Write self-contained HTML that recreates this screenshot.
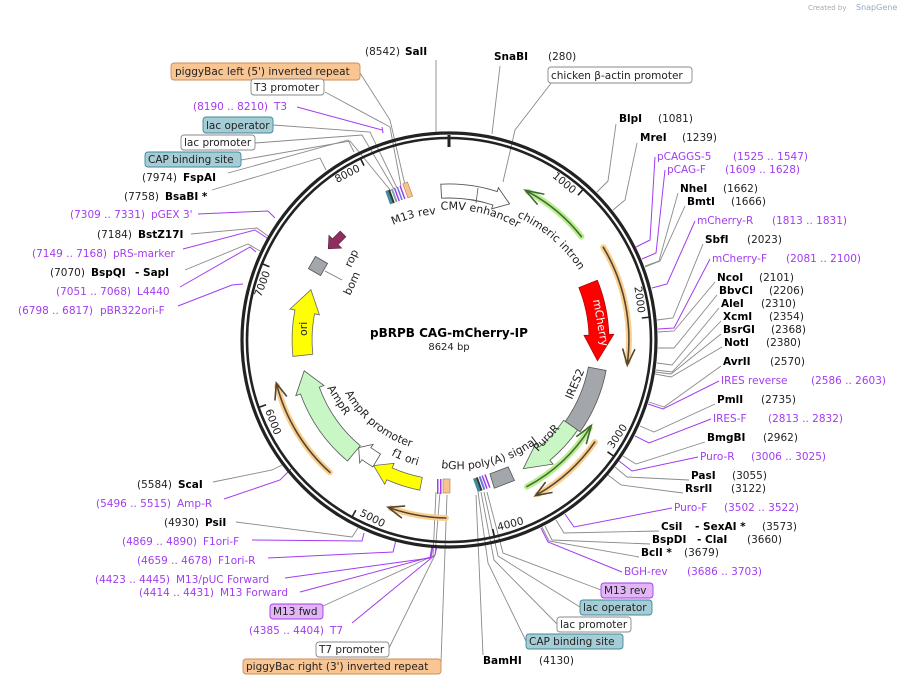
<!DOCTYPE html>
<html><head><meta charset="utf-8"><style>
html,body{margin:0;padding:0;background:#fff}
svg{display:block}
text{font-family:"DejaVu Sans","Liberation Sans",sans-serif;font-size:10.5px;fill:#222}
.b{font-weight:bold;fill:#000}
.p{fill:#a23cf0}
.t{font-size:10.5px;fill:#222}
.lg{fill:none;stroke:#8a8a8a;stroke-width:0.9}
.lp{fill:none;stroke:#a23cf0;stroke-width:1}
</style></head><body>
<svg width="904" height="683" viewBox="0 0 904 683" xmlns="http://www.w3.org/2000/svg">
<text x="808" y="10" style="font-size:7px;fill:#aaa">Created by</text><text x="856" y="10" style="font-size:8px;fill:#9ab">SnapGene</text>

<g class="lg">
<polyline points="436,60 436,132"/>
<polyline points="500,66 492,134"/>
<polyline points="552,82 515,130 503,182"/>
<polyline points="360,73 390,120 405,185"/>
<polyline points="325,92 390,127 401,186"/>
<polyline points="273,125 370,132 397,188"/>
<polyline points="255,143 362,135 394,189"/>
<polyline points="241,160 350,141 391,191"/>
<polyline points="228,173 348,140 354,152"/>
<polyline points="212,190 320,158 326,170"/>
<polyline points="191,234 257,228 268,236"/>
<polyline points="185,270 248,244 260,251"/>
<polyline points="213,482 272,470 282,465"/>
<polyline points="236,522 352,537 358,528"/>
<polyline points="323,606 433,556 436,492"/>
<polyline points="389,648 435,555 440,492"/>
<polyline points="441,662 447,495"/>
<polyline points="616,124 608,181 597,192"/>
<polyline points="637,143 625,200 613,210"/>
<polyline points="678,193 659,261 645,266"/>
<polyline points="685,206 660,261 645,267"/>
<polyline points="703,244 673,318 657,320"/>
<polyline points="715,282 674,331 658,332"/>
<polyline points="717,295 674,348 658,348"/>
<polyline points="719,308 672,365 657,363"/>
<polyline points="721,321 672,372 656,370"/>
<polyline points="721,334 671,374 655,372"/>
<polyline points="722,347 671,377 655,374"/>
<polyline points="721,366 664,407 649,402"/>
<polyline points="715,404 654,432 640,426"/>
<polyline points="705,442 636,464 623,456"/>
<polyline points="689,480 627,477 615,467"/>
<polyline points="683,493 621,485 608,475"/>
<polyline points="659,531 564,533 556,520"/>
<polyline points="650,544 552,540 545,526"/>
<polyline points="639,557 549,541 542,527"/>
<polyline points="601,590 503,553 487,492"/>
<polyline points="580,607 498,556 484,492"/>
<polyline points="557,624 494,560 481,492"/>
<polyline points="526,641 488,563 478,492"/>
<polyline points="483,655 476,495"/>
</g>
<g class="lp">
<polyline points="297,107 382,130"/><line x1="382" y1="127" x2="383" y2="133"/>
<polyline points="198,214 268,211 275,218"/>
<polyline points="183,249 255,230 267,238"/>
<polyline points="180,287 250,247 256,252"/>
<polyline points="178,306 232,285 243,284"/>
<polyline points="224,499 280,480 291,469"/>
<polyline points="252,540 362,541 364,533"/>
<polyline points="268,558 393,552 396,540"/>
<polyline points="285,578 430,558 432,546"/>
<polyline points="300,592 431,557 433,546"/>
<polyline points="352,623 435,555 437,546"/>
<polyline points="655,157 650,240 636,247"/>
<polyline points="665,170 656,253 642,259"/>
<polyline points="695,221 667,284 652,288"/>
<polyline points="710,259 674,328 658,329"/>
<polyline points="719,381 663,409 648,404"/>
<polyline points="711,419 649,443 635,436"/>
<polyline points="698,457 632,471 619,461"/>
<polyline points="672,508 574,527 565,514"/>
<polyline points="622,572 548,542 541,528"/>
</g>

<circle cx="449" cy="340" r="207" fill="none" stroke="#222" stroke-width="3.2"/>
<circle cx="449" cy="340" r="202" fill="none" stroke="#222" stroke-width="2.6"/>
<line x1="449" y1="135" x2="449" y2="147" stroke="#222" stroke-width="3"/>
<g stroke="#222" stroke-width="1.6">
<line x1="578" y1="195.2" x2="584" y2="188.4"/>
<line x1="641.8" y1="318" x2="650.7" y2="317"/>
<line x1="607.5" y1="451.8" x2="614.9" y2="457"/>
<line x1="492.7" y1="529" x2="494.7" y2="537.8"/>
<line x1="355.8" y1="510.2" x2="351.5" y2="518"/>
<line x1="266.1" y1="404.8" x2="257.7" y2="407.8"/>
<line x1="269.4" y1="266.7" x2="261" y2="263.3"/>
<line x1="364" y1="165.6" x2="360" y2="157.5"/>
</g>
<g class="t">
<text x="572.3" y="194.1" text-anchor="end" transform="rotate(40.2 572.3 194.1)">1000</text>
<text x="638.1" y="313.4" text-anchor="end" transform="rotate(82 638.1 313.4)">2000</text>
<text x="270.3" y="272.5" text-anchor="end" transform="rotate(-69.3 270.3 272.5)">7000</text>
<text x="360.8" y="170.6" text-anchor="end" transform="rotate(-27.5 360.8 170.6)">8000</text>
<text x="612.9" y="449.3" transform="rotate(-56.3 612.9 449.3)">3000</text>
<text x="498.3" y="530.7" transform="rotate(-14.5 498.3 530.7)">4000</text>
<text x="359" y="515.2" transform="rotate(27.2 359 515.2)">5000</text>
<text x="265.1" y="410.6" transform="rotate(69 265.1 410.6)">6000</text>
</g>

<path d="M440.8,184.2 A156,156 0 0 1 497.2,191.6 L498.4,187.8 L509.6,203.9 L491.6,208.8 L492.9,205 A142,142 0 0 0 441.6,198.2 Z" fill="#fff" stroke="#555" stroke-width="0.9"/>
<line x1="478" y1="188" x2="476" y2="203" stroke="#555" stroke-width="0.8"/>
<g fill="none" stroke-linecap="round">
<path d="M527.9,191.7 A168,168 0 0 1 581.4,236.6" stroke="#b8ee90" stroke-width="6"/>
<path d="M527.9,191.7 A168,168 0 0 1 581.4,236.6" stroke="#3f6b2f" stroke-width="1.6"/>
<polyline points="537.2,204.1 525.3,190.3 543.8,194.1" stroke="#3f6b2f" stroke-width="1.6"/>
<path d="M603.3,247.3 A180,180 0 0 1 627.6,361.9" stroke="#f9cf8f" stroke-width="6"/>
<path d="M603.3,247.3 A180,180 0 0 1 627.6,361.9" stroke="#55452f" stroke-width="1.6"/>
<polyline points="622.8,349.1 627.3,365.1 634.7,349.7" stroke="#55452f" stroke-width="1.6"/>
<path d="M526.9,486.6 A166,166 0 0 0 589.8,428" stroke="#b8ee90" stroke-width="6"/>
<path d="M526.9,486.6 A166,166 0 0 0 589.8,428" stroke="#3f6b2f" stroke-width="1.6"/>
<polyline points="576.8,436.3 591.3,425.5 586.4,443.5" stroke="#3f6b2f" stroke-width="1.6"/>
<path d="M594.8,442.1 A178,178 0 0 1 538,494.2" stroke="#f9cf8f" stroke-width="6"/>
<path d="M594.8,442.1 A178,178 0 0 1 538,494.2" stroke="#55452f" stroke-width="1.6"/>
<polyline points="545.2,482.6 535.3,495.7 551.9,492.5" stroke="#55452f" stroke-width="1.6"/>
<path d="M445.9,518 A178,178 0 0 1 391,508.3" stroke="#f9cf8f" stroke-width="6"/>
<path d="M445.9,518 A178,178 0 0 1 391,508.3" stroke="#55452f" stroke-width="1.6"/>
<polyline points="404.5,506.1 388.1,507.3 401.4,517.7" stroke="#55452f" stroke-width="1.6"/>
<path d="M329.9,472.3 A178,178 0 0 1 277.1,386.1" stroke="#f9cf8f" stroke-width="6"/>
<path d="M329.9,472.3 A178,178 0 0 1 277.1,386.1" stroke="#55452f" stroke-width="1.6"/>
<polyline points="286.4,396 276.3,383.1 275,399.9" stroke="#55452f" stroke-width="1.6"/>
</g>
<path d="M597.4,280.1 A160,160 0 0 1 608.9,334.4 L613.9,334.2 L597.5,360.9 L583.9,335.3 L588.9,335.1 A140,140 0 0 0 578.8,287.6 Z" fill="#f00" stroke="#900" stroke-width="0.6"/>
<text x="593" y="300" style="fill:#fff;font-size:11px" transform="rotate(80 593 300)">mCherry</text>
<path d="M606.1,370.5 A160,160 0 0 1 580.1,431.8 L565.3,421.5 A142,142 0 0 0 588.4,367.1 Z" fill="#a3a6ab" stroke="#555" stroke-width="0.8"/>
<path d="M577.6,430.1 A157,157 0 0 1 549.9,460.3 L553.1,464.1 L523.3,468.6 L535.8,443.4 L539,447.2 A140,140 0 0 0 563.7,420.3 Z" fill="#c8f6c4" stroke="#555" stroke-width="0.8"/>
<text x="538" y="452" style="font-size:11px" transform="rotate(-47 538 452)">PuroR</text>
<path d="M514.5,480.5 L494.3,488.2 L489.9,473.9 L508.2,466.9 Z" fill="#a3a6ab" stroke="#555" stroke-width="0.8"/>
<path d="M419.8,490.2 A153,153 0 0 1 386.8,479.8 L384.7,484.3 L373.6,465.6 L394.1,463.3 L392.1,467.9 A140,140 0 0 0 422.3,477.4 Z" fill="#ff0" stroke="#666" stroke-width="0.8"/>
<path d="M347.4,461 A158,158 0 0 1 300.5,394 L295.8,395.7 L304.2,370.8 L324,385.5 L319.3,387.2 A138,138 0 0 0 360.3,445.7 Z" fill="#c8f6c4" stroke="#555" stroke-width="0.8"/>
<text x="327" y="388" style="font-size:11px" transform="rotate(58 327 388)">AmpR</text>
<path d="M372.8,466.9 A148,148 0 0 1 362,459.7 L359.7,463 L358.7,447.6 L373.2,444.4 L370.8,447.6 A133,133 0 0 0 380.5,454 Z" fill="#fff" stroke="#555" stroke-width="0.8"/>
<path d="M292.9,356.4 A157,157 0 0 1 294.9,310 L290,309.1 L310.9,289.7 L319.4,314.8 L314.5,313.9 A137,137 0 0 0 312.8,354.3 Z" fill="#ff0" stroke="#666" stroke-width="0.8"/>
<text x="307" y="336" style="font-size:11px" transform="rotate(-90 307 336)">ori</text>
<rect x="-7" y="-7" width="14" height="14" transform="translate(318,266) rotate(30)" fill="#a3a6ab" stroke="#555" stroke-width="0.8"/>
<line x1="325" y1="271" x2="342" y2="280" stroke="#777" stroke-width="0.8"/>
<polygon points="-10,-4 1,-4 1,-9 11,0 1,9 1,4 -10,4" transform="translate(336,241) rotate(135)" fill="#8e2f5f" stroke="#5a1d3c" stroke-width="0.6"/>
<text x="350" y="296" style="font-size:11px" transform="rotate(-65 350 296)">bom</text>
<text x="351" y="268" style="font-size:11px" transform="rotate(-65 351 268)">rop</text>
<g transform="translate(398,194) rotate(-20)">
<rect x="-11" y="-7" width="3" height="14" fill="#3e8a9a"/><rect x="-8" y="-7" width="2" height="14" fill="#333"/>
<rect x="-5" y="-7" width="2" height="14" fill="#7aa"/><rect x="-2" y="-7" width="1.5" height="14" fill="#a23cf0"/>
<rect x="1" y="-7" width="1.5" height="14" fill="#5b7be0"/><rect x="4" y="-7" width="1.5" height="14" fill="#a23cf0"/>
<rect x="8" y="-8" width="5" height="15" fill="#f8c390" stroke="#b07a4a" stroke-width="0.6"/>
</g>
<rect x="437" y="479" width="1.5" height="15" fill="#a23cf0"/><rect x="440" y="479" width="1.5" height="15" fill="#a23cf0"/>
<rect x="443" y="479" width="7" height="14" fill="#f8c390" stroke="#b07a4a" stroke-width="0.6"/>
<g transform="translate(482,483) rotate(-20)">
<rect x="-7" y="-7" width="3" height="14" fill="#3e8a9a"/><rect x="-4" y="-7" width="2" height="14" fill="#333"/>
<rect x="-1" y="-7" width="2" height="14" fill="#5b7be0"/><rect x="2" y="-7" width="1.5" height="14" fill="#a23cf0"/><rect x="5" y="-7" width="1.5" height="14" fill="#a23cf0"/>
</g>

<defs>
<path id="cmv" d="M440.8,210 A130,130 0 0 1 540,245"/>
<path id="chi" d="M517,217 A146,146 0 0 1 590,290"/>
<path id="m13" d="M393,225 A126,126 0 0 1 440,214"/>
<path id="bgh" d="M441,468 A128,128 0 0 0 560,420"/>
<path id="ampp" d="M345,393 A112,112 0 0 0 430,451"/>
<path id="f1" d="M391,455 A128,128 0 0 0 430,468"/>
</defs>
<text style="font-size:11px"><textPath href="#cmv">CMV enhancer</textPath></text>
<text style="font-size:11px"><textPath href="#chi">chimeric intron</textPath></text>
<text style="font-size:11px"><textPath href="#m13">M13 rev</textPath></text>
<text style="font-size:11px"><textPath href="#bgh">bGH poly(A) signal</textPath></text>
<text style="font-size:11px"><textPath href="#ampp">AmpR promoter</textPath></text>
<text style="font-size:11px"><textPath href="#f1">f1 ori</textPath></text>
<text x="572" y="400" style="font-size:11px" transform="rotate(-67 572 400)">IRES2</text>

<text x="449" y="337" text-anchor="middle" class="b" style="font-size:12px">pBRPB CAG-mCherry-IP</text>
<text x="449" y="350" text-anchor="middle" style="font-size:10px">8624 bp</text>

<g stroke-width="0.9">
<rect x="171" y="63" width="189" height="17" rx="3" fill="#f9c593" stroke="#c98e5a"/>
<rect x="251" y="79" width="73" height="16" rx="3" fill="#fff" stroke="#888"/>
<rect x="203" y="117" width="70" height="16" rx="3" fill="#a6cdd6" stroke="#3e8a9a"/>
<rect x="181" y="135" width="74" height="15" rx="3" fill="#fff" stroke="#888"/>
<rect x="145" y="152" width="96" height="15" rx="3" fill="#a6cdd6" stroke="#3e8a9a"/>
<rect x="548" y="67" width="144" height="16" rx="3" fill="#fff" stroke="#888"/>
<rect x="601" y="583" width="52" height="15" rx="3" fill="#e2b6f5" stroke="#a23cf0"/>
<rect x="580" y="600" width="72" height="15" rx="3" fill="#a6cdd6" stroke="#3e8a9a"/>
<rect x="557" y="617" width="74" height="15" rx="3" fill="#fff" stroke="#888"/>
<rect x="526" y="634" width="97" height="15" rx="3" fill="#a6cdd6" stroke="#3e8a9a"/>
<rect x="270" y="604" width="53" height="15" rx="3" fill="#e2b6f5" stroke="#a23cf0"/>
<rect x="316" y="642" width="73" height="15" rx="3" fill="#fff" stroke="#888"/>
<rect x="243" y="659" width="198" height="15" rx="3" fill="#f9c593" stroke="#c98e5a"/>
</g>
<g style="font-size:10.5px">
<text x="175" y="75">piggyBac left (5') inverted repeat</text>
<text x="254" y="91">T3 promoter</text>
<text x="206" y="129">lac operator</text>
<text x="184" y="146">lac promoter</text>
<text x="148" y="163">CAP binding site</text>
<text x="551" y="79">chicken β-actin promoter</text>
<text x="604" y="594">M13 rev</text>
<text x="583" y="611">lac operator</text>
<text x="560" y="628">lac promoter</text>
<text x="529" y="645">CAP binding site</text>
<text x="273" y="615">M13 fwd</text>
<text x="319" y="653">T7 promoter</text>
<text x="246" y="670">piggyBac right (3') inverted repeat</text>
</g>

<text x="365" y="55">(8542)</text><text x="405" y="55" class="b">SalI</text>
<text x="193" y="110" class="p">(8190 .. 8210)</text><text x="274" y="110" class="p">T3</text>
<text x="142" y="181">(7974)</text><text x="183" y="181" class="b">FspAI</text>
<text x="124" y="200">(7758)</text><text x="165" y="200" class="b">BsaBI *</text>
<text x="70" y="218" class="p">(7309 .. 7331)</text><text x="151" y="218" class="p">pGEX 3'</text>
<text x="97" y="238">(7184)</text><text x="138" y="238" class="b">BstZ17I</text>
<text x="32" y="257" class="p">(7149 .. 7168)</text><text x="113" y="257" class="p">pRS-marker</text>
<text x="50" y="276">(7070)</text><text x="91" y="276" class="b">BspQI</text><text x="135" y="276" class="b">- SapI</text>
<text x="56" y="295" class="p">(7051 .. 7068)</text><text x="137" y="295" class="p">L4440</text>
<text x="18" y="314" class="p">(6798 .. 6817)</text><text x="100" y="314" class="p">pBR322ori-F</text>
<text x="137" y="488">(5584)</text><text x="178" y="488" class="b">ScaI</text>
<text x="96" y="507" class="p">(5496 .. 5515)</text><text x="177" y="507" class="p">Amp-R</text>
<text x="164" y="526">(4930)</text><text x="205" y="526" class="b">PsiI</text>
<text x="122" y="545" class="p">(4869 .. 4890)</text><text x="203" y="545" class="p">F1ori-F</text>
<text x="137" y="564" class="p">(4659 .. 4678)</text><text x="218" y="564" class="p">F1ori-R</text>
<text x="95" y="583" class="p">(4423 .. 4445)</text><text x="176" y="583" class="p">M13/pUC Forward</text>
<text x="139" y="596" class="p">(4414 .. 4431)</text><text x="220" y="596" class="p">M13 Forward</text>
<text x="249" y="634" class="p">(4385 .. 4404)</text><text x="330" y="634" class="p">T7</text>

<text x="494" y="60" class="b">SnaBI</text><text x="548" y="60">(280)</text>
<text x="619" y="122" class="b">BlpI</text><text x="658" y="122">(1081)</text>
<text x="640" y="141" class="b">MreI</text><text x="682" y="141">(1239)</text>
<text x="657" y="160" class="p">pCAGGS-5</text><text x="733" y="160" class="p">(1525 .. 1547)</text>
<text x="667" y="173" class="p">pCAG-F</text><text x="725" y="173" class="p">(1609 .. 1628)</text>
<text x="680" y="192" class="b">NheI</text><text x="723" y="192">(1662)</text>
<text x="687" y="205" class="b">BmtI</text><text x="731" y="205">(1666)</text>
<text x="697" y="224" class="p">mCherry-R</text><text x="772" y="224" class="p">(1813 .. 1831)</text>
<text x="705" y="243" class="b">SbfI</text><text x="747" y="243">(2023)</text>
<text x="712" y="262" class="p">mCherry-F</text><text x="786" y="262" class="p">(2081 .. 2100)</text>
<text x="717" y="281" class="b">NcoI</text><text x="759" y="281">(2101)</text>
<text x="719" y="294" class="b">BbvCI</text><text x="769" y="294">(2206)</text>
<text x="721" y="307" class="b">AleI</text><text x="761" y="307">(2310)</text>
<text x="723" y="320" class="b">XcmI</text><text x="769" y="320">(2354)</text>
<text x="723" y="333" class="b">BsrGI</text><text x="771" y="333">(2368)</text>
<text x="724" y="346" class="b">NotI</text><text x="766" y="346">(2380)</text>
<text x="723" y="365" class="b">AvrII</text><text x="770" y="365">(2570)</text>
<text x="721" y="384" class="p">IRES reverse</text><text x="811" y="384" class="p">(2586 .. 2603)</text>
<text x="717" y="403" class="b">PmlI</text><text x="761" y="403">(2735)</text>
<text x="713" y="422" class="p">IRES-F</text><text x="768" y="422" class="p">(2813 .. 2832)</text>
<text x="707" y="441" class="b">BmgBI</text><text x="763" y="441">(2962)</text>
<text x="700" y="460" class="p">Puro-R</text><text x="751" y="460" class="p">(3006 .. 3025)</text>
<text x="691" y="479" class="b">PasI</text><text x="732" y="479">(3055)</text>
<text x="685" y="492" class="b">RsrII</text><text x="731" y="492">(3122)</text>
<text x="674" y="511" class="p">Puro-F</text><text x="724" y="511" class="p">(3502 .. 3522)</text>
<text x="661" y="530" class="b">CsiI</text><text x="695" y="530" class="b">- SexAI *</text><text x="762" y="530">(3573)</text>
<text x="652" y="543" class="b">BspDI</text><text x="697" y="543" class="b">- ClaI</text><text x="747" y="543">(3660)</text>
<text x="641" y="556" class="b">BclI *</text><text x="684" y="556">(3679)</text>
<text x="624" y="575" class="p">BGH-rev</text><text x="687" y="575" class="p">(3686 .. 3703)</text>
<text x="483" y="664" class="b">BamHI</text><text x="539" y="664">(4130)</text>
</svg>
</body></html>
